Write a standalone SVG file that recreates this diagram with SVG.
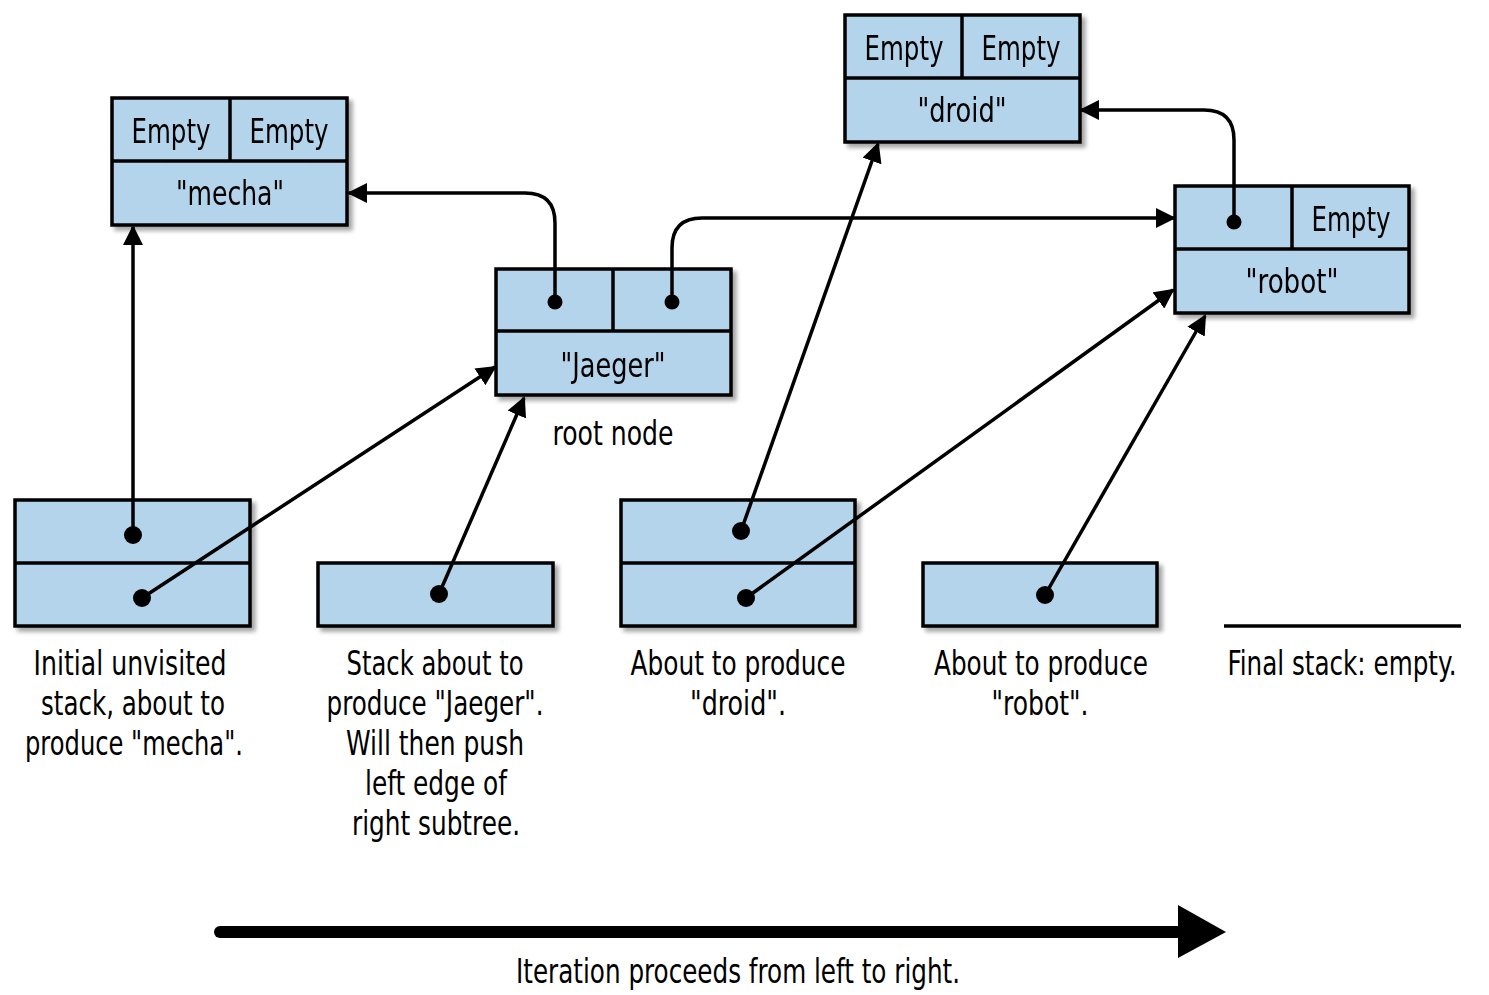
<svg xmlns="http://www.w3.org/2000/svg" width="1489" height="995" viewBox="0 0 1489 995">
<defs>
<filter id="sh" x="-10%" y="-10%" width="130%" height="130%"><feDropShadow dx="4" dy="4" stdDeviation="2" flood-color="#000" flood-opacity="0.35"/></filter>
<marker id="a2" viewBox="0 0 10 10" refX="9" refY="5" markerWidth="20" markerHeight="20" markerUnits="userSpaceOnUse" orient="auto"><path d="M0,0 L10,5 L0,10 z" fill="#000"/></marker>
</defs>
<style>
.b{fill:#b3d4ea;stroke:#000;stroke-width:3.5}
.l{stroke:#000;stroke-width:3.5;fill:none}
text{font-family:"Liberation Sans Narrow","DejaVu Sans Condensed","Liberation Sans",sans-serif;font-size:34px;text-anchor:middle;fill:#000}
.c{stroke:#000;stroke-width:3.5;fill:none;marker-end:url(#a2)}
</style>
<g id="mecha" filter="url(#sh)"><rect class="b" x="112" y="98" width="235" height="127"/><line class="l" x1="112" y1="161" x2="347" y2="161"/><line class="l" x1="230" y1="98" x2="230" y2="161"/>
<text x="171" y="143" textLength="79" lengthAdjust="spacingAndGlyphs">Empty</text><text x="289" y="143" textLength="79" lengthAdjust="spacingAndGlyphs">Empty</text><text x="230" y="205" textLength="108" lengthAdjust="spacingAndGlyphs">"mecha"</text></g>
<g id="jaeger" filter="url(#sh)"><rect class="b" x="496" y="269" width="235" height="126"/><line class="l" x1="496" y1="331" x2="731" y2="331"/><line class="l" x1="613" y1="269" x2="613" y2="331"/>
<text x="613" y="377" textLength="105" lengthAdjust="spacingAndGlyphs">"Jaeger"</text></g>
<text x="613" y="445" textLength="121" lengthAdjust="spacingAndGlyphs">root node</text>
<g id="droid" filter="url(#sh)"><rect class="b" x="845" y="15" width="235" height="127"/><line class="l" x1="845" y1="78" x2="1080" y2="78"/><line class="l" x1="962" y1="15" x2="962" y2="78"/>
<text x="904" y="60" textLength="79" lengthAdjust="spacingAndGlyphs">Empty</text><text x="1021" y="60" textLength="79" lengthAdjust="spacingAndGlyphs">Empty</text><text x="962" y="122" textLength="89" lengthAdjust="spacingAndGlyphs">"droid"</text></g>
<g id="robot" filter="url(#sh)"><rect class="b" x="1175" y="186" width="234" height="127"/><line class="l" x1="1175" y1="249" x2="1409" y2="249"/><line class="l" x1="1292" y1="186" x2="1292" y2="249"/>
<text x="1351" y="231" textLength="79" lengthAdjust="spacingAndGlyphs">Empty</text><text x="1292" y="293" textLength="93" lengthAdjust="spacingAndGlyphs">"robot"</text></g>
<g id="stack1" filter="url(#sh)"><rect class="b" x="15" y="500" width="235" height="126"/><line class="l" x1="15" y1="563" x2="250" y2="563"/></g>
<g id="stack2" filter="url(#sh)"><rect class="b" x="318" y="563" width="235" height="63"/></g>
<g id="stack3" filter="url(#sh)"><rect class="b" x="621" y="500" width="234" height="126"/><line class="l" x1="621" y1="563" x2="855" y2="563"/></g>
<g id="stack4" filter="url(#sh)"><rect class="b" x="923" y="563" width="234" height="63"/></g>
<g id="stack5"><line x1="1224" y1="626" x2="1461" y2="626" stroke="#000" stroke-width="3.5"/></g>
<g id="connectors">
<path class="c" d="M133,535 V227"/>
<path class="c" d="M142,598 L495,367"/>
<path class="c" d="M439,594 L524,398"/>
<path class="c" d="M555,302 V223 Q555,193 525,193 H349"/>
<path class="c" d="M672,302 V248 Q672,218 702,218 H1174"/>
<path class="c" d="M741,531 L878,144"/>
<path class="c" d="M746,598 L1173,290"/>
<path class="c" d="M1045,595 L1205,316"/>
<path class="c" d="M1234,222 V140 Q1234,110 1204,110 H1081"/>
<line x1="220" y1="932" x2="1185" y2="932" stroke="#000" stroke-width="12" stroke-linecap="round"/>
<polygon points="1178,905 1226,932 1178,958" fill="#000"/>
</g>
<g fill="#000"><circle cx="555" cy="302" r="7.5"/><circle cx="672" cy="302" r="7.5"/><circle cx="1234" cy="222" r="7.5"/><circle cx="133" cy="535" r="9"/><circle cx="142" cy="598" r="9"/><circle cx="439" cy="594" r="9"/><circle cx="741" cy="531" r="9"/><circle cx="746" cy="598" r="9"/><circle cx="1045" cy="595" r="9"/></g>
<g id="captions">
<text x="130" y="675" textLength="193" lengthAdjust="spacingAndGlyphs">Initial unvisited</text>
<text x="133" y="715" textLength="184" lengthAdjust="spacingAndGlyphs">stack, about to</text>
<text x="134" y="755" textLength="218" lengthAdjust="spacingAndGlyphs">produce "mecha".</text>
<text x="435" y="675" textLength="177" lengthAdjust="spacingAndGlyphs">Stack about to</text>
<text x="435" y="715" textLength="217" lengthAdjust="spacingAndGlyphs">produce "Jaeger".</text>
<text x="435" y="755" textLength="178" lengthAdjust="spacingAndGlyphs">Will then push</text>
<text x="436" y="795" textLength="142" lengthAdjust="spacingAndGlyphs">left edge of</text>
<text x="436" y="835" textLength="168" lengthAdjust="spacingAndGlyphs">right subtree.</text>
<text x="738" y="675" textLength="215" lengthAdjust="spacingAndGlyphs">About to produce</text>
<text x="738" y="715" textLength="96" lengthAdjust="spacingAndGlyphs">"droid".</text>
<text x="1041" y="675" textLength="214" lengthAdjust="spacingAndGlyphs">About to produce</text>
<text x="1040" y="715" textLength="97" lengthAdjust="spacingAndGlyphs">"robot".</text>
<text x="1342" y="675" textLength="229" lengthAdjust="spacingAndGlyphs">Final stack: empty.</text>
<text x="738" y="983" textLength="444" lengthAdjust="spacingAndGlyphs">Iteration proceeds from left to right.</text>
</g>
</svg>
